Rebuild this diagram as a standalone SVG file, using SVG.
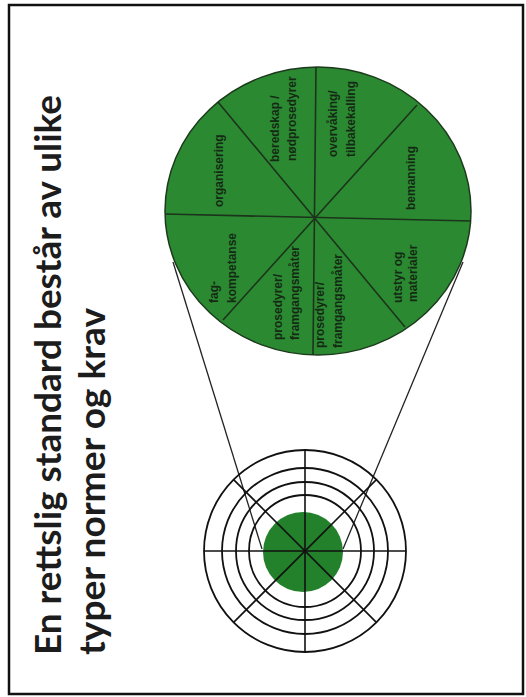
<svg xmlns="http://www.w3.org/2000/svg" width="526" height="697" viewBox="0 0 526 697">
<style>
.frame{fill:#fff;stroke:#111;stroke-width:2.5}
.title{font-family:Lato,"Liberation Sans",Arial,sans-serif;font-weight:bold;font-size:37px;fill:#1c1c1c}
.lbl{font-family:"Liberation Sans",Arial,sans-serif;font-weight:bold;font-size:12px;fill:#152a15}
.disc{fill:#2b8a31;stroke:#1c3a1c;stroke-width:1.5}
.div{stroke:#1c331c;stroke-width:1.6;fill:none}
.ring{fill:none;stroke:#111;stroke-width:1.8}
.spoke{stroke:#111;stroke-width:1.6}
.conn{stroke:#222;stroke-width:1.3;fill:none}
</style>
<rect class="frame" x="9" y="5" width="514" height="689"/>
<g id="title">
<text class="title" transform="translate(61,655) rotate(-90)" textLength="560" lengthAdjust="spacingAndGlyphs">En rettslig standard består av ulike</text>
<text class="title" transform="translate(105,655) rotate(-90)" textLength="347" lengthAdjust="spacingAndGlyphs">typer normer og krav</text>
</g>
<g id="connectors">
<line class="conn" x1="173" y1="262" x2="262" y2="549"/>
<line class="conn" x1="463" y1="262" x2="343" y2="549"/>
</g>
<g id="target">
<circle cx="303" cy="552" r="40" fill="#23812b"/>
<circle class="ring" cx="305" cy="551" r="56"/>
<circle class="ring" cx="305" cy="551" r="69"/>
<circle class="ring" cx="305" cy="551" r="83"/>
<circle class="ring" cx="305" cy="551" r="101"/>
<line class="spoke" x1="305" y1="450" x2="305" y2="652"/>
<line class="spoke" x1="204" y1="551" x2="406" y2="551"/>
<line class="spoke" x1="233.6" y1="479.6" x2="376.4" y2="622.4"/>
<line class="spoke" x1="376.4" y1="479.6" x2="233.6" y2="622.4"/>
</g>
<g id="standard-circle">
<ellipse class="disc" cx="318" cy="211" rx="153" ry="144"/>
<line class="div" x1="316" y1="67" x2="313" y2="355"/>
<line class="div" x1="165" y1="214" x2="471" y2="221"/>
<line class="div" x1="218" y1="102" x2="405" y2="327"/>
<line class="div" x1="417" y1="105" x2="223" y2="320"/>
</g>
<g id="seg-organisering"><text class="lbl" transform="translate(223,207) rotate(-90)">organisering</text></g>
<g id="seg-beredskap"><text class="lbl" transform="translate(279,162) rotate(-90)">beredskap /</text><text class="lbl" transform="translate(296,161) rotate(-90)">nødprosedyrer</text></g>
<g id="seg-overvaking"><text class="lbl" transform="translate(337,157) rotate(-90)">overvåking/</text><text class="lbl" transform="translate(355,157) rotate(-90)">tilbakekalling</text></g>
<g id="seg-bemanning"><text class="lbl" transform="translate(415,210) rotate(-90)">bemanning</text></g>
<g id="seg-utstyr"><text class="lbl" transform="translate(402,303) rotate(-90)">utstyr og</text><text class="lbl" transform="translate(417,302) rotate(-90)">materialer</text></g>
<g id="seg-prosedyrer-1"><text class="lbl" transform="translate(324,348) rotate(-90)">prosedyrer/</text><text class="lbl" transform="translate(342,348) rotate(-90)">framgangsmåter</text></g>
<g id="seg-prosedyrer-2"><text class="lbl" transform="translate(282,340) rotate(-90)">prosedyrer/</text><text class="lbl" transform="translate(299,340) rotate(-90)">framgangsmåter</text></g>
<g id="seg-kompetanse"><text class="lbl" transform="translate(218,303) rotate(-90)">fag-</text><text class="lbl" transform="translate(236,303) rotate(-90)">kompetanse</text></g>
</svg>
